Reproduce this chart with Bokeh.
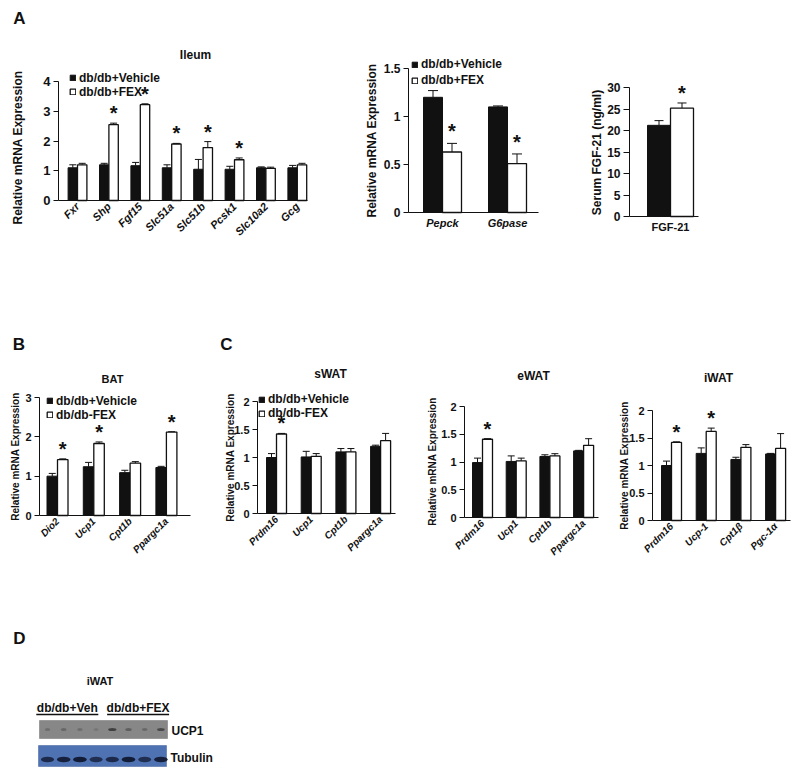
import numpy as np
from math import pi
from bokeh.plotting import figure
from bokeh.layouts import column, row
from bokeh.models import (ColumnDataSource, Range1d, FixedTicker, Whisker, TeeHead,
                          Legend, LegendItem, Label)
from bokeh.core.properties import value
from bokeh.embed import file_html
from bokeh.resources import INLINE

FONT = "Liberation Sans"
INK = "#111111"

# ---------------- data ----------------
groups_a = ["db/db+Vehicle", "db/db+FEX"]
groups_b = ["db/db+Vehicle", "db/db-FEX"]

ileum_genes = ["Fxr", "Shp", "Fgf15", "Slc51a", "Slc51b", "Pcsk1", "Slc10a2", "Gcg"]
ileum_veh = [1.10, 1.20, 1.17, 1.10, 1.05, 1.05, 1.10, 1.10]
ileum_veh_err = [0.10, 0.05, 0.11, 0.10, 0.33, 0.10, 0.03, 0.08]
ileum_fex = [1.20, 2.55, 3.22, 1.90, 1.78, 1.37, 1.08, 1.20]
ileum_fex_err = [0.05, 0.05, 0.03, 0.02, 0.20, 0.06, 0.04, 0.05]
ileum_sig = [False, True, True, True, True, True, False, False]
ileum_yticks = [0, 1, 2, 3, 4]
ileum_ylabels = ["0", "1", "2", "3", "4"]

liver_genes = ["Pepck", "G6pase"]
liver_veh = [1.20, 1.10]
liver_veh_err = [0.07, 0.01]
liver_fex = [0.63, 0.51]
liver_fex_err = [0.09, 0.10]
liver_sig = [True, True]
liver_yticks = [0, 0.5, 1, 1.5]
liver_ylabels = ["0", "0.5", "1", "1.5"]

fgf_cat = ["FGF-21"]
fgf_veh = [21.2]
fgf_veh_err = [1.1]
fgf_fex = [25.2]
fgf_fex_err = [1.2]
fgf_sig = [True]
fgf_yticks = [0, 5, 10, 15, 20, 25, 30]
fgf_ylabels = ["0", "5", "10", "15", "20", "25", "30"]

bat_genes = ["Dio2", "Ucp1", "Cpt1b", "Ppargc1a"]
bat_veh = [1.00, 1.24, 1.09, 1.22]
bat_veh_err = [0.07, 0.11, 0.06, 0.03]
bat_fex = [1.42, 1.83, 1.33, 2.12]
bat_fex_err = [0.02, 0.04, 0.04, 0.01]
bat_sig = [True, True, False, True]
bat_yticks = [0, 1, 2, 3]
bat_ylabels = ["0", "1", "2", "3"]

swat_genes = ["Prdm16", "Ucp1", "Cpt1b", "Ppargc1a"]
swat_veh = [1.00, 1.01, 1.10, 1.20]
swat_veh_err = [0.07, 0.10, 0.06, 0.02]
swat_fex = [1.42, 1.02, 1.10, 1.30]
swat_fex_err = [0.01, 0.05, 0.06, 0.13]
swat_sig = [True, False, False, False]

ewat_genes = ["Prdm16", "Ucp1", "Cpt1b", "Ppargc1a"]
ewat_veh = [0.99, 1.01, 1.10, 1.20]
ewat_veh_err = [0.08, 0.10, 0.03, 0.01]
ewat_fex = [1.41, 1.02, 1.11, 1.30]
ewat_fex_err = [0.01, 0.05, 0.04, 0.12]
ewat_sig = [True, False, False, False]

iwat_genes = ["Prdm16", "Ucp-1", "Cpt1\u03b2", "Pgc-1\u03b1"]
iwat_veh = [1.00, 1.22, 1.11, 1.21]
iwat_veh_err = [0.08, 0.10, 0.04, 0.01]
iwat_fex = [1.42, 1.62, 1.33, 1.31]
iwat_fex_err = [0.01, 0.06, 0.05, 0.27]
iwat_sig = [True, True, False, False]

wat_yticks = [0, 0.5, 1, 1.5, 2]
wat_ylabels = ["0", "0.5", "1", "1.5", "2"]

blot_lanes = ["Veh1", "Veh2", "Veh3", "Veh4", "FEX1", "FEX2", "FEX3", "FEX4"]
blot_groups = ["db/db+Veh", "db/db+FEX"]
ucp1_signal = [0.25, 0.30, 0.25, 0.15, 0.70, 0.40, 0.30, 0.60]
tubulin_signal = [0.80, 0.90, 0.95, 0.75, 0.80, 0.95, 0.75, 0.90]


# ---------------- helpers ----------------
def txt(p, text, x, y, size, units="canvas", style="bold", align="center", angle=0):
    p.add_layout(Label(x=x, y=y, x_units=units, y_units=units, text=text, angle=angle,
                       text_font=FONT, text_font_style=style, text_font_size=f"{size}px",
                       text_color=INK, text_align=align, text_baseline="middle"))


def bar_panel(cats, veh, veh_err, fex, fex_err, sig, yticks, ylabels, *,
              fig_x0, fig_y0, fig_w, fig_h, axis_l, axis_r, top_px, zero_px,
              c0, dx, bar_px, ylabel, ylab_xy, tick_fs, ylab_fs, xlab_fs, xlab_style,
              xrot, tick_len=5, tee=7, star_dy=-10, legend=None, texts=()):
    ymax = yticks[-1]
    k = (zero_px - top_px) / ymax          # pixels per data unit
    bar_w = bar_px / dx
    idx = np.arange(len(cats))
    src = ColumnDataSource(dict(
        xv=idx - bar_w / 2, xf=idx + bar_w / 2,
        veh=veh, fex=fex,
        veh_up=np.add(veh, veh_err), fex_up=np.add(fex, fex_err)))
    p = figure(frame_width=fig_w, frame_height=fig_h,
               x_range=Range1d((fig_x0 - c0) / dx, (fig_x0 + fig_w - c0) / dx),
               y_range=Range1d((zero_px - (fig_y0 + fig_h)) / k, (zero_px - fig_y0) / k),
               min_border=0, output_backend="svg", toolbar_location=None)
    p.outline_line_color = None
    p.grid.visible = False
    r_veh = p.vbar(x="xv", top="veh", bottom=0, width=bar_w, source=src,
                   fill_color=INK, line_color=INK, line_width=1)
    r_fex = p.vbar(x="xf", top="fex", bottom=0, width=bar_w, source=src,
                   fill_color="white", line_color=INK, line_width=1.3)
    for b, lo, up in (("xv", "veh", "veh_up"), ("xf", "fex", "fex_up")):
        p.add_layout(Whisker(source=src, base=b, lower=lo, upper=up, dimension="height",
                             line_color=INK, line_width=1, lower_head=None,
                             upper_head=TeeHead(size=tee, line_color=INK, line_width=1)))
    sx = [x for x, s in zip(src.data["xf"], sig) if s]
    sy = [y for y, s in zip(src.data["fex_up"], sig) if s]
    if sx:
        p.text(x=sx, y=sy, text=["*"] * len(sx), text_font=value(FONT),
               text_font_style="bold", text_font_size="20px", text_color=INK,
               text_align="center", text_baseline="alphabetic", y_offset=star_dy)

    xa = p.xaxis[0]
    xa.fixed_location = 0
    xa.bounds = ((axis_l - c0) / dx, (axis_r - c0) / dx)
    xa.ticker = FixedTicker(ticks=[int(i) for i in idx])
    xa.major_label_overrides = {int(i): c for i, c in zip(idx, cats)}
    xa.major_tick_line_color = None
    xa.major_tick_out = 0
    xa.major_tick_in = 0
    xa.minor_tick_line_color = None
    xa.axis_line_color = INK
    xa.major_label_text_font = FONT
    xa.major_label_text_font_style = xlab_style
    xa.major_label_text_font_size = f"{xlab_fs}px"
    xa.major_label_text_color = INK
    xa.major_label_orientation = xrot
    xa.major_label_standoff = 4

    ya = p.yaxis[0]
    ya.fixed_location = (axis_l - c0) / dx
    ya.bounds = (yticks[0], ymax)
    ya.ticker = FixedTicker(ticks=yticks)
    ya.major_label_overrides = dict(zip(yticks, ylabels))
    ya.minor_tick_line_color = None
    ya.major_tick_in = 0
    ya.major_tick_out = tick_len
    ya.major_tick_line_color = INK
    ya.axis_line_color = INK
    ya.major_label_text_font = FONT
    ya.major_label_text_font_style = "bold"
    ya.major_label_text_font_size = f"{tick_fs}px"
    ya.major_label_text_color = INK
    ya.major_label_standoff = 3

    txt(p, ylabel, ylab_xy[0] - fig_x0, ylab_xy[1] - fig_y0, ylab_fs, angle=pi / 2)

    if legend is not None:
        labels, left_px, first_c, item_h, sp = legend
        leg_h = 2 * item_h + sp
        top = first_c - item_h / 2
        leg = Legend(items=[LegendItem(label=labels[0], renderers=[r_veh]),
                            LegendItem(label=labels[1], renderers=[r_fex])],
                     location=(left_px - fig_x0, fig_y0 + fig_h - top - leg_h),
                     orientation="vertical",
                     border_line_color=None, background_fill_alpha=0,
                     label_text_font=FONT, label_text_font_style="bold",
                     label_text_font_size="12px", label_text_color=INK,
                     glyph_width=7, glyph_height=7, label_height=12, label_standoff=3,
                     spacing=sp, padding=0, margin=0)
        p.add_layout(leg)
    for t, tx, ty, tfs in texts:
        txt(p, t, tx - fig_x0, ty - fig_y0, tfs)
    return p


# ---------------- row 1 (panel A) ----------------
p_ileum = bar_panel(ileum_genes, ileum_veh, ileum_veh_err, ileum_fex, ileum_fex_err, ileum_sig,
                    ileum_yticks, ileum_ylabels,
                    fig_x0=0, fig_y0=0, fig_w=310, fig_h=250, axis_l=58, axis_r=307,
                    top_px=81, zero_px=200, c0=77, dx=31.4, bar_px=9.4,
                    ylabel="Relative mRNA Expression", ylab_xy=(17, 147),
                    tick_fs=13, ylab_fs=12, xlab_fs=11, xlab_style="bold italic", xrot=pi / 4,
                    legend=(groups_a, 69, 77.5, 14, 0),
                    texts=[("A", 19, 17.5, 17), ("Ileum", 195, 54, 12)])

p_liver = bar_panel(liver_genes, liver_veh, liver_veh_err, liver_fex, liver_fex_err, liver_sig,
                    liver_yticks, liver_ylabels,
                    fig_x0=310, fig_y0=0, fig_w=235, fig_h=250, axis_l=408, axis_r=538,
                    top_px=68, zero_px=212, c0=442, dx=65, bar_px=19,
                    ylabel="Relative mRNA Expression", ylab_xy=(371, 140),
                    tick_fs=12, ylab_fs=12, xlab_fs=11, xlab_style="bold italic",
                    xrot="horizontal", tee=10, star_dy=-12,
                    legend=(groups_a, 411, 64, 14, 2))

p_fgf = bar_panel(fgf_cat, fgf_veh, fgf_veh_err, fgf_fex, fgf_fex_err, fgf_sig,
                  fgf_yticks, fgf_ylabels,
                  fig_x0=545, fig_y0=0, fig_w=255, fig_h=250, axis_l=629, axis_r=698,
                  top_px=87, zero_px=216, c0=670, dx=69, bar_px=23,
                  ylabel="Serum FGF-21 (ng/ml)", ylab_xy=(596, 152),
                  tick_fs=12, ylab_fs=12, xlab_fs=11, xlab_style="bold",
                  xrot="horizontal", tick_len=6, tee=9)

# ---------------- row 2 (panels B, C) ----------------
R2_Y, R2_H = 250, 350
p_bat = bar_panel(bat_genes, bat_veh, bat_veh_err, bat_fex, bat_fex_err, bat_sig,
                  bat_yticks, bat_ylabels,
                  fig_x0=0, fig_y0=R2_Y, fig_w=195, fig_h=R2_H, axis_l=39, axis_r=190,
                  top_px=397, zero_px=515, c0=57, dx=36.3, bar_px=10.5,
                  ylabel="Relative mRNA Expression", ylab_xy=(15, 456),
                  tick_fs=11, ylab_fs=10, xlab_fs=10, xlab_style="bold italic", xrot=pi / 4,
                  legend=(groups_b, 46, 400.5, 14, 0),
                  texts=[("B", 18.5, 343.5, 17), ("BAT", 112, 378, 11)])

p_swat = bar_panel(swat_genes, swat_veh, swat_veh_err, swat_fex, swat_fex_err, swat_sig,
                   wat_yticks, wat_ylabels,
                   fig_x0=195, fig_y0=R2_Y, fig_w=205, fig_h=R2_H, axis_l=257, axis_r=395,
                   top_px=401, zero_px=513, c0=276, dx=34.7, bar_px=10,
                   ylabel="Relative mRNA Expression", ylab_xy=(230, 457),
                   tick_fs=11, ylab_fs=10, xlab_fs=10, xlab_style="bold italic", xrot=pi / 4,
                   legend=(groups_b, 258, 399, 14, 0),
                   texts=[("C", 226, 343.5, 17), ("sWAT", 330, 373, 12)])

p_ewat = bar_panel(ewat_genes, ewat_veh, ewat_veh_err, ewat_fex, ewat_fex_err, ewat_sig,
                   wat_yticks, wat_ylabels,
                   fig_x0=400, fig_y0=R2_Y, fig_w=203, fig_h=R2_H, axis_l=464, axis_r=598,
                   top_px=406, zero_px=517, c0=482, dx=33.7, bar_px=10,
                   ylabel="Relative mRNA Expression", ylab_xy=(432, 461),
                   tick_fs=11, ylab_fs=10, xlab_fs=10, xlab_style="bold italic", xrot=pi / 4,
                   texts=[("eWAT", 533, 375, 12)])

p_iwat = bar_panel(iwat_genes, iwat_veh, iwat_veh_err, iwat_fex, iwat_fex_err, iwat_sig,
                   wat_yticks, wat_ylabels,
                   fig_x0=603, fig_y0=R2_Y, fig_w=197, fig_h=R2_H, axis_l=652, axis_r=790,
                   top_px=410, zero_px=520, c0=671, dx=34.7, bar_px=10,
                   ylabel="Relative mRNA Expression", ylab_xy=(624, 465),
                   tick_fs=11, ylab_fs=10, xlab_fs=10, xlab_style="bold italic", xrot=pi / 4,
                   texts=[("iWAT", 718, 377, 12)])

# ---------------- row 3 (panel D, western blot) ----------------
D_Y, D_W, D_H = 600, 230, 174
p_blot = figure(frame_width=D_W, frame_height=D_H,
                x_range=Range1d(0, D_W), y_range=Range1d(D_Y + D_H, D_Y),
                x_axis_location=None, y_axis_location=None, min_border=0,
                output_backend="svg", toolbar_location=None)
p_blot.outline_line_color = None
p_blot.grid.visible = False
lane_x = 47.0 + 16.2 * np.arange(len(blot_lanes))
p_blot.quad(left=[39], right=[167], top=[720], bottom=[738],
            fill_color="#878787", line_color="#707070", line_width=0.5)
p_blot.quad(left=[38], right=[166], top=[745], bottom=[766],
            fill_color="#4f73b2", line_color="#3f5f99", line_width=0.5)
p_blot.ellipse(x=lane_x, y=[729] * len(lane_x), width=4 + 6 * np.array(ucp1_signal),
               height=3, fill_color="#222222", fill_alpha=ucp1_signal, line_color=None)
p_blot.ellipse(x=lane_x, y=[759] * len(lane_x), width=10 + 4 * np.array(tubulin_signal),
               height=5.5, fill_color="#0f1730", fill_alpha=tubulin_signal, line_color=None)
n_half = len(blot_lanes) // 2
for gi, g in enumerate(blot_groups):
    cx = lane_x[gi * n_half:(gi + 1) * n_half].mean() - 4.5 + 6 * gi
    txt(p_blot, g, cx, 707, 12, units="data")
    p_blot.segment(x0=[cx - 31], x1=[cx + 31], y0=[714], y1=[714], line_color=INK, line_width=1.5)
txt(p_blot, "UCP1", 171, 730, 12, units="data", align="left")
txt(p_blot, "Tubulin", 170, 757, 12, units="data", align="left")
txt(p_blot, "iWAT", 99.5, 680, 11, units="data")
txt(p_blot, "D", 19, 637.5, 17, units="data")

layout = column(row(p_ileum, p_liver, p_fgf),
                row(p_bat, p_swat, p_ewat, p_iwat),
                p_blot)

open("out.html", "w").write(file_html(layout, INLINE))
